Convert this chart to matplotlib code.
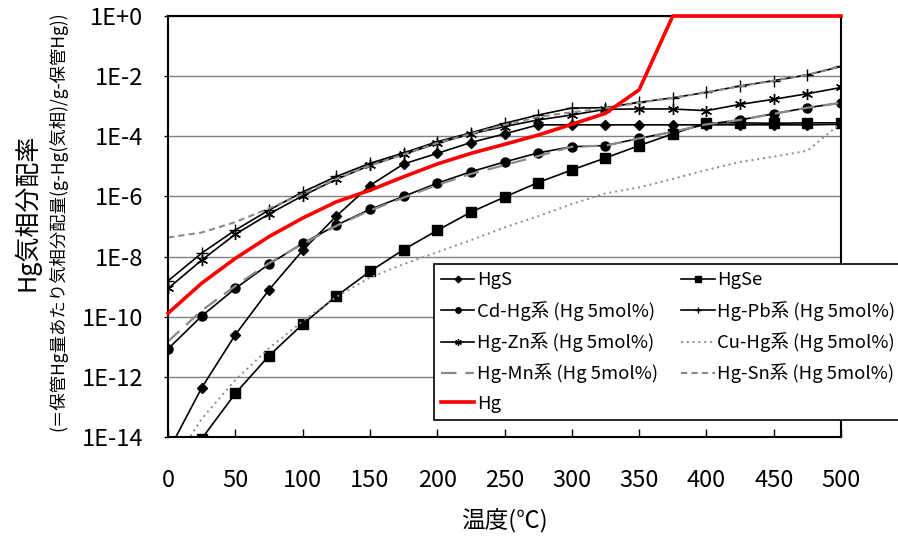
import numpy as np
import matplotlib
matplotlib.use("Agg")
import matplotlib.pyplot as plt

plt.rcParams['font.family'] = ['Noto Sans CJK JP', 'DejaVu Sans']

temp = [0, 25, 50, 75, 100, 125, 150, 175, 200, 225, 250, 275, 300, 325, 350, 375, 400, 425, 450, 475, 500]

hgs = [3.2e-15, 4.3e-13, 2.5e-11, 7.8e-10, 1.6e-8, 2.2e-7, 2.3e-6, 1.2e-5, 2.7e-5, 6.2e-5, 1.2e-4,
       2.4e-4, 2.4e-4, 2.4e-4, 2.4e-4, 2.4e-4, 2.4e-4, 2.4e-4, 2.4e-4, 2.4e-4, 2.5e-4]
hgse = [1.3e-16, 8.7e-15, 2.8e-13, 5.0e-12, 5.6e-11, 4.8e-10, 3.2e-9, 1.7e-8, 7.4e-8, 3.0e-7, 9.5e-7,
        2.9e-6, 7.6e-6, 1.9e-5, 4.9e-5, 1.2e-4, 2.8e-4, 2.8e-4, 2.7e-4, 2.8e-4, 2.8e-4]
cd_hg = [8.5e-12, 1.05e-10, 8.7e-10, 5.6e-9, 2.75e-8, 1.1e-7, 3.7e-7, 1.0e-6, 2.75e-6, 6.6e-6, 1.4e-5,
         2.8e-5, 4.5e-5, 4.9e-5, 8.5e-5, 1.4e-4, 2.5e-4, 3.5e-4, 5.6e-4, 8.9e-4, 1.3e-3]
hg_pb = [1.55e-9, 1.3e-8, 7.6e-8, 3.5e-7, 1.4e-6, 4.6e-6, 1.26e-5, 2.8e-5, 6.6e-5, 1.3e-4, 2.7e-4,
         5.1e-4, 8.7e-4, 8.9e-4, 1.35e-3, 1.9e-3, 2.9e-3, 4.7e-3, 7.1e-3, 1.1e-2, 2.1e-2]
hg_zn = [8.7e-10, 7.6e-9, 5.5e-8, 2.6e-7, 1.05e-6, 3.7e-6, 1.07e-5, 2.5e-5, 5.8e-5, 1.2e-4, 2.1e-4,
         3.5e-4, 5.1e-4, 7.9e-4, 8.1e-4, 8.1e-4, 7.1e-4, 1.15e-3, 1.7e-3, 2.6e-3, 4.2e-3]
cu_hg = [7.9e-16, 4.0e-14, 7.9e-13, 8.9e-12, 7.1e-11, 4.5e-10, 2.0e-9, 5.6e-9, 1.4e-8, 3.5e-8, 9.3e-8,
         2.2e-7, 5.6e-7, 1.26e-6, 2.0e-6, 3.8e-6, 7.6e-6, 1.4e-5, 2.1e-5, 3.3e-5, 2.75e-4]
hg_mn = [1.5e-11, 1.6e-10, 1.05e-9, 6.0e-9, 2.6e-8, 1.05e-7, 3.4e-7, 9.1e-7, 2.4e-6, 5.6e-6, 1.1e-5,
         2.2e-5, 4.5e-5, 4.9e-5, 8.5e-5, 1.4e-4, 2.5e-4, 3.5e-4, 5.6e-4, 8.9e-4, 1.3e-3]
hg_sn = [4.3e-8, 6.3e-8, 1.4e-7, 4.0e-7, 1.2e-6, 3.8e-6, 1.05e-5, 2.5e-5, 6.0e-5, 1.2e-4, 2.4e-4,
         4.4e-4, 6.3e-4, 8.5e-4, 1.3e-3, 1.9e-3, 2.9e-3, 4.6e-3, 7.1e-3, 1.1e-2, 2.2e-2]
hg = [1.3e-10, 1.3e-9, 8.7e-9, 4.6e-8, 1.9e-7, 6.6e-7, 1.6e-6, 4.5e-6, 1.2e-5, 2.7e-5, 5.4e-5,
      1.1e-4, 2.5e-4, 5.8e-4, 3.5e-3, 1, 1, 1, 1, 1, 1]

yticks = [1e0, 1e-2, 1e-4, 1e-6, 1e-8, 1e-10, 1e-12, 1e-14]
ytick_labels = ["1E+0", "1E-2", "1E-4", "1E-6", "1E-8", "1E-10", "1E-12", "1E-14"]
xticks = [0, 50, 100, 150, 200, 250, 300, 350, 400, 450, 500]

fig = plt.figure(figsize=(8.98, 5.38), dpi=100)
ax = fig.add_axes([168/898, 1-437/538, 673/898, 421/538])

lw = 1.2
star = (6, 2, 0)
h_hgs, = ax.plot(temp, hgs, color='black', lw=lw, marker='D', ms=5.5, label='HgS')
h_hgse, = ax.plot(temp, hgse, color='black', lw=lw, marker='s', ms=6.5, label='HgSe')
h_cd, = ax.plot(temp, cd_hg, color='black', lw=lw, marker='o', ms=6.5, label='Cd-Hg系 (Hg 5mol%)')
h_pb, = ax.plot(temp, hg_pb, color='black', lw=lw, marker='+', ms=8, mew=1, label='Hg-Pb系 (Hg 5mol%)')
h_zn, = ax.plot(temp, hg_zn, color='black', lw=lw, marker=star, ms=8, mew=1, label='Hg-Zn系 (Hg 5mol%)')
h_cu, = ax.plot(temp, cu_hg, color='#8a8a8a', lw=1.4, ls=(0, (1, 2)), label='Cu-Hg系 (Hg 5mol%)')
h_mn, = ax.plot(temp, hg_mn, color='#8a8a8a', lw=1.6, ls=(0, (7, 4)), label='Hg-Mn系 (Hg 5mol%)')
h_sn, = ax.plot(temp, hg_sn, color='#8a8a8a', lw=1.5, ls=(0, (3, 2)), label='Hg-Sn系 (Hg 5mol%)')
h_hg, = ax.plot(temp, hg, color='#ff0000', lw=2.6, label='Hg', clip_on=False, zorder=3)

ax.set_yscale('log')
ax.set_ylim(1e-14, 1e0)
ax.set_xlim(0, 500)
ax.set_yticks(yticks)
ax.set_yticklabels(ytick_labels)
ax.yaxis.set_minor_locator(matplotlib.ticker.NullLocator())
ax.set_xticks(xticks)
ax.tick_params(axis='y', direction='out', length=3, width=1, pad=15, labelsize=17)
ax.tick_params(axis='x', direction='in', length=6, width=1, pad=23, labelsize=17)
ax.grid(axis='y', color='#808080', lw=1)
ax.set_axisbelow(True)
for s in ax.spines.values():
    s.set_linewidth(1.5)
    s.set_color('black')

ax.set_xlabel('温度(℃)', fontsize=17, labelpad=12)
fig.text(0.030, 0.606, 'Hg気相分配率', rotation=90, fontsize=18, ha='center', va='center')
fig.text(0.064, 0.589, '(＝保管Hg量あたり気相分配量(g-Hg(気相)/g-保管Hg))', rotation=90,
         fontsize=12.5, ha='center', va='center')

handles = [h_hgs, h_cd, h_zn, h_mn, h_hg, h_hgse, h_pb, h_cu, h_sn]
leg = ax.legend(handles=handles, ncol=2, loc='upper left', bbox_to_anchor=(0.395, 0.411),
                borderaxespad=0, fontsize=13.3, frameon=True, fancybox=False,
                edgecolor='black', framealpha=1, handlelength=1.8, handletextpad=0.15,
                columnspacing=1.25, labelspacing=0.62, markerscale=0.6)
leg.get_frame().set_linewidth(1.2)
leg.set_zorder(5)

fig.savefig('out.png', dpi=100)
